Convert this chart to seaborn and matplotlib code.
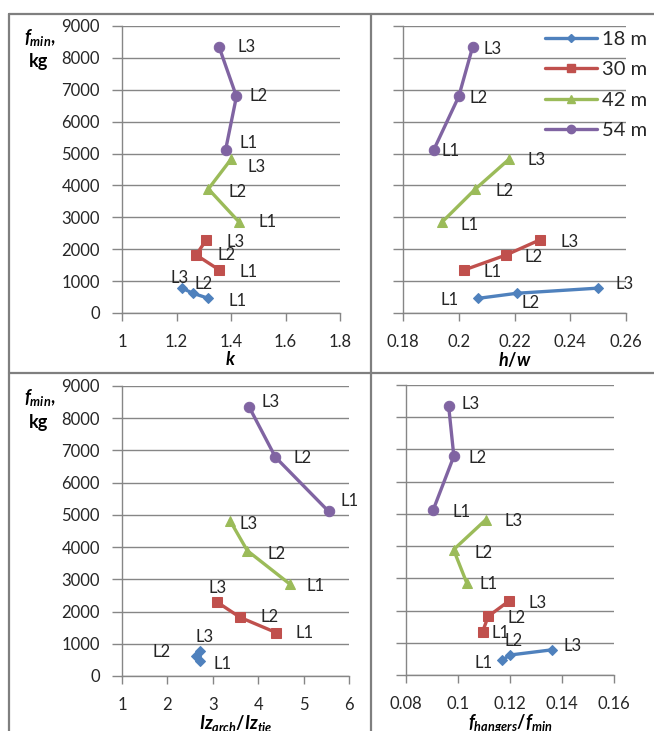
import pandas as pd
import numpy as np
import matplotlib
matplotlib.use('Agg')
import matplotlib.pyplot as plt
from matplotlib.lines import Line2D
from matplotlib.ticker import MultipleLocator, FormatStrFormatter
import seaborn as sns

# data: three levels per span
spans = ['18 m', '30 m', '42 m', '54 m']
levels = ['L1', 'L2', 'L3']

fmin_18 = [460, 620, 780]
fmin_30 = [1350, 1820, 2290]
fmin_42 = [2850, 3890, 4820]
fmin_54 = [5110, 6790, 8350]

k_18 = [1.317, 1.26, 1.22]
k_30 = [1.357, 1.272, 1.309]
k_42 = [1.43, 1.317, 1.40]
k_54 = [1.38, 1.42, 1.356]

hw_18 = [0.207, 0.221, 0.25]
hw_30 = [0.202, 0.217, 0.229]
hw_42 = [0.194, 0.206, 0.218]
hw_54 = [0.191, 0.200, 0.205]

iz_18 = [2.72, 2.63, 2.72]
iz_30 = [4.39, 3.60, 3.10]
iz_42 = [4.70, 3.76, 3.38]
iz_54 = [5.55, 4.38, 3.80]

fh_18 = [0.117, 0.120, 0.136]
fh_30 = [0.1095, 0.1116, 0.1195]
fh_42 = [0.1034, 0.0983, 0.1107]
fh_54 = [0.0904, 0.0984, 0.0964]

rows = []
for s, f, a, b, c, d in zip(spans,
                            [fmin_18, fmin_30, fmin_42, fmin_54],
                            [k_18, k_30, k_42, k_54],
                            [hw_18, hw_30, hw_42, hw_54],
                            [iz_18, iz_30, iz_42, iz_54],
                            [fh_18, fh_30, fh_42, fh_54]):
    for i, lv in enumerate(levels):
        rows.append({'span': s, 'level': lv, 'fmin': f[i], 'k': a[i],
                     'hw': b[i], 'iz': c[i], 'fh': d[i]})
df = pd.DataFrame(rows)

sns.set_style('white')
plt.rcParams['font.family'] = ['Lato', 'DejaVu Sans']
plt.rcParams['mathtext.fontset'] = 'custom'
plt.rcParams['mathtext.it'] = 'Lato:italic:bold'
plt.rcParams['mathtext.rm'] = 'Lato:bold'
plt.rcParams['mathtext.bf'] = 'Lato:bold'

colors = {'18 m': '#4F81BD', '30 m': '#C0504D', '42 m': '#9BBB59', '54 m': '#8064A2'}
markers = {'18 m': 'D', '30 m': 's', '42 m': '^', '54 m': 'o'}
msizes = {'18 m': 5, '30 m': 7, '42 m': 7, '54 m': 7.5}
grey = '#868686'
txt = '#262626'

W, H = 654, 731
fig = plt.figure(figsize=(W / 100, H / 100), dpi=100)

def px_axes(x0, y0, x1, y1):
    return fig.add_axes([x0 / W, 1 - y1 / H, (x1 - x0) / W, (y1 - y0) / H])

# panel setup: column, axes box (px), limits, tick step, label
panels = [
    ('k', (122, 26, 340, 313), (1, 1.8), 0.2, r'$k$', True),
    ('hw', (403, 26, 626, 313), (0.18, 0.26), 0.02, r'$h/w$', False),
    ('iz', (122, 386, 349, 676), (1, 6), 1, r'$Iz_{arch}/Iz_{tie}$', True),
    ('fh', (406, 385, 614, 675), (0.08, 0.16), 0.02, r'$f_{hangers}/f_{min}$', False),
]

# label offsets (px) for L1..L3
label_off = {
    'k': {'54 m': [(14, 7), (13, 0), (18, 0)],
          '42 m': [(19, 0), (20, -3), (17, -8)],
          '30 m': [(20, -2), (21, 0), (20, -2)],
          '18 m': [(20, -3), (2, 9), (-11, 10)]},
    'hw': {'54 m': [(8, -1), (11, -2), (11, -2)],
           '42 m': [(18, -3), (20, -2), (19, -1)],
           '30 m': [(19, -2), (18, -2), (21, -2)],
           '18 m': [(-38, -2), (4, -10), (17, 4)]},
    'iz': {'54 m': [(12, 10), (18, -1), (12, 5)],
           '42 m': [(17, -2), (20, -3), (9, -3)],
           '30 m': [(20, -1), (20, 0), (-9, 14)],
           '18 m': [(13, -3), (-44, 4), (-5, 14)]},
    'fh': {'54 m': [(19, -2), (15, -2), (13, 2)],
           '42 m': [(13, -1), (21, -3), (19, -1)],
           '30 m': [(9, -2), (19, -2), (20, -2)],
           '18 m': [(-28, -3), (-5, 14), (12, 4)]},
}

for col, box, xlim, step, xlabel, show_y in panels:
    ax = px_axes(*box)
    for s in spans:
        sub = df[df['span'] == s]
        sns.lineplot(data=sub, x=col, y='fmin', sort=False, estimator=None,
                     color=colors[s], marker=markers[s], markersize=msizes[s],
                     markeredgecolor=colors[s], linewidth=2.4, ax=ax,
                     label=s, legend=False)
        for i, (xv, yv, lv) in enumerate(zip(sub[col], sub['fmin'], sub['level'])):
            dx, dy = label_off[col][s][i]
            ax.annotate(lv, (xv, yv), xytext=(dx, dy), textcoords='offset pixels',
                        ha='left', va='center', fontsize=12, color=txt)
    ax.set_xlim(*xlim)
    ax.set_ylim(0, 9000)
    ax.xaxis.set_major_locator(MultipleLocator(step))
    ax.xaxis.set_major_formatter(FormatStrFormatter('%g'))
    ax.yaxis.set_major_locator(MultipleLocator(1000))
    ax.yaxis.grid(True, color=grey, linewidth=1)
    ax.xaxis.grid(False)
    for sp in ['top', 'right']:
        ax.spines[sp].set_visible(False)
    for sp in ['left', 'bottom']:
        ax.spines[sp].set_color(grey)
        ax.spines[sp].set_linewidth(1)
    ax.tick_params(axis='y', direction='out', length=7, width=1, color=grey,
                   pad=9, labelsize=12, labelcolor=txt, left=True,
                   labelleft=show_y)
    ax.tick_params(axis='x', direction='out', length=6, width=1, color=grey,
                   pad=9, labelsize=12, labelcolor=txt, bottom=True)
    ax.set_xlabel(xlabel, fontsize=13, color='black', labelpad=0)
    ax.set_ylabel('')
    if col == 'hw':
        handles = [Line2D([], [], color=colors[s], marker=markers[s],
                          markersize=msizes[s] * 0.8, linewidth=2.4) for s in spans]
        fig.legend(handles, spans, loc='upper left',
                   bbox_to_anchor=(545 / W, 1 - 31 / H), frameon=False,
                   fontsize=14.5, handlelength=2.6, handletextpad=0.25,
                   labelspacing=0.66, borderpad=0, borderaxespad=0)

# y axis titles
for y_top in [37, 398]:
    fig.text(56 / W, 1 - y_top / H, r'$f_{min}$,', ha='right', va='center',
             fontsize=13, fontweight='bold', color='black')
    fig.text(38 / W, 1 - (y_top + 25) / H, 'kg', ha='center', va='center',
             fontsize=13, fontweight='bold', color='black')

# panel frame lines
frame = dict(color='#7f7f7f', linewidth=1.6, transform=fig.transFigure)
fig.add_artist(Line2D([9 / W, 1], [1 - 14 / H, 1 - 14 / H], **frame))
fig.add_artist(Line2D([9 / W, 9 / W], [0, 1 - 14 / H], **frame))
fig.add_artist(Line2D([371 / W, 371 / W], [0, 1 - 14 / H], **frame))
fig.add_artist(Line2D([9 / W, 1], [1 - 373 / H, 1 - 373 / H], **frame))

plt.savefig('out.png', dpi=100)
